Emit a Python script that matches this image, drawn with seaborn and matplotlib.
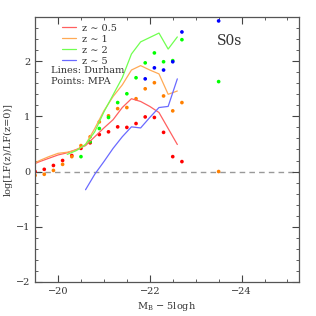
import numpy as np
import pandas as pd
import matplotlib
matplotlib.use("Agg")
import matplotlib.pyplot as plt
import seaborn as sns

# =====================================
# Data
# =====================================
labels = ["z ∼ 0.5", "z ∼ 1", "z ∼ 2", "z ∼ 5"]
point_colors = ["#ff0000", "#ff8000", "#00ff00", "#0000ff"]
line_colors = ["#ff6060", "#ffaa55", "#70ff50", "#6a6aff"]

# Durham (lines)
durham_x_05 = [-19.4, -19.6, -19.8, -20.0, -20.2, -20.4, -20.6, -20.8, -21.0,
               -21.2, -21.4, -21.6, -21.8, -22.0, -22.2, -22.4, -22.6]
durham_y_05 = [0.11, 0.18, 0.24, 0.30, 0.34, 0.40, 0.47, 0.63, 0.79,
               0.94, 1.16, 1.32, 1.27, 1.18, 1.07, 0.78, 0.49]
durham_x_1 = durham_x_05
durham_y_1 = [0.12, 0.20, 0.27, 0.33, 0.35, 0.39, 0.49, 0.78, 1.10,
              1.36, 1.57, 1.84, 1.92, 1.84, 1.77, 1.40, 1.46]
durham_x_2 = [-20.2, -20.4, -20.6, -20.8, -21.0, -21.2, -21.4, -21.6,
              -21.8, -22.0, -22.2, -22.4, -22.6]
durham_y_2 = [0.31, 0.38, 0.49, 0.72, 1.08, 1.39, 1.70, 2.13,
              2.35, 2.43, 2.51, 2.22, 2.44]
durham_x_5 = [-20.6, -20.8, -21.0, -21.2, -21.4, -21.6, -21.8, -22.0,
              -22.2, -22.4, -22.6]
durham_y_5 = [-0.33, -0.05, 0.18, 0.42, 0.63, 0.81, 0.79, 0.98,
              1.16, 1.18, 1.68]

# MPA (points)
mpa_x_05 = [-19.5, -19.7, -19.9, -20.1, -20.3, -20.5, -20.7, -20.9, -21.1,
            -21.3, -21.5, -21.7, -21.9, -22.1, -22.3, -22.5, -22.7]
mpa_y_05 = [0.0, 0.04, 0.11, 0.20, 0.29, 0.42, 0.52, 0.67, 0.72,
            0.81, 0.80, 0.87, 0.99, 0.98, 0.71, 0.27, 0.18]
mpa_x_1 = mpa_x_05 + [-23.5]
mpa_y_1 = [-0.07, -0.05, 0.02, 0.13, 0.27, 0.47, 0.63, 0.90, 1.01,
           1.14, 1.16, 1.32, 1.50, 1.61, 1.37, 1.10, 1.25, 0.0]
mpa_x_2 = [-20.5, -20.7, -20.9, -21.1, -21.3, -21.5, -21.7, -21.9,
           -22.1, -22.3, -22.5, -22.7, -23.5]
mpa_y_2 = [0.27, 0.54, 0.78, 0.98, 1.25, 1.41, 1.70, 1.97,
           2.15, 1.99, 2.01, 2.39, 1.63]
mpa_x_5 = [-21.9, -22.1, -22.3, -22.5, -22.7, -23.5]
mpa_y_5 = [1.68, 1.88, 1.84, 1.99, 2.53, 2.73]

durham = pd.concat([
    pd.DataFrame({"M": durham_x_05, "ratio": durham_y_05, "z": labels[0]}),
    pd.DataFrame({"M": durham_x_1, "ratio": durham_y_1, "z": labels[1]}),
    pd.DataFrame({"M": durham_x_2, "ratio": durham_y_2, "z": labels[2]}),
    pd.DataFrame({"M": durham_x_5, "ratio": durham_y_5, "z": labels[3]}),
], ignore_index=True)

mpa = pd.concat([
    pd.DataFrame({"M": mpa_x_05, "ratio": mpa_y_05, "z": labels[0]}),
    pd.DataFrame({"M": mpa_x_1, "ratio": mpa_y_1, "z": labels[1]}),
    pd.DataFrame({"M": mpa_x_2, "ratio": mpa_y_2, "z": labels[2]}),
    pd.DataFrame({"M": mpa_x_5, "ratio": mpa_y_5, "z": labels[3]}),
], ignore_index=True)

# =====================================
# Plot
# =====================================
sns.set_style("ticks")
plt.rcParams["font.family"] = ["DejaVu Serif"]
plt.rcParams["mathtext.fontset"] = "dejavuserif"

fig = plt.figure(figsize=(3.16, 3.16), dpi=100)
ax = fig.add_axes([0.111, 0.108, 0.835, 0.838])

sns.lineplot(data=durham, x="M", y="ratio", hue="z", hue_order=labels,
             palette=line_colors, sort=False, estimator=None, lw=0.9, ax=ax)
sns.scatterplot(data=mpa, x="M", y="ratio", hue="z", hue_order=labels,
                palette=point_colors, s=7, linewidth=0, legend=False, ax=ax)

ax.axhline(0, color="#999999", ls=(0, (4, 3)), lw=1.0, zorder=0)

ax.set_xlim(-19.5, -25.25)
ax.set_ylim(-2, 2.8)
ax.set_xticks([-20, -22, -24])
ax.set_xticks(np.arange(-19.5, -25.3, -0.5), minor=True)
ax.set_yticks([-2, -1, 0, 1, 2])
ax.set_yticks(np.arange(-2, 2.81, 0.2), minor=True)
ax.set_xticklabels(["−20", "−22", "−24"])
ax.set_yticklabels(["−2", "−1", "0", "1", "2"])
ax.tick_params(which="both", direction="in", top=True, right=True,
               colors="#444444", labelsize=7, labelcolor="#333333")
ax.tick_params(which="major", length=5, width=0.8)
ax.tick_params(which="minor", length=2.5, width=0.6)
for s in ax.spines.values():
    s.set_color("#555555")
    s.set_linewidth(0.9)

ax.set_xlabel(r"M$_{\rm B}$ − 5logh", fontsize=7, color="#333333", labelpad=3)
ax.set_ylabel("log[LF(z)/LF(z=0)]", fontsize=7, color="#333333", labelpad=2)

leg = ax.legend(loc="upper left", frameon=False, fontsize=7, handlelength=1.5,
                handletextpad=0.6, labelspacing=0.2, borderaxespad=0.3,
                bbox_to_anchor=(0.075, 1.0))
for t in leg.get_texts():
    t.set_color("#333333")

ax.text(0.06, 0.79, "Lines: Durham", transform=ax.transAxes, fontsize=7,
        color="#333333")
ax.text(0.06, 0.748, "Points: MPA", transform=ax.transAxes, fontsize=7,
        color="#333333")
ax.text(0.69, 0.895, "S0s", transform=ax.transAxes, fontsize=10,
        color="#333333")

plt.savefig("out.png", dpi=100)
plt.close()
